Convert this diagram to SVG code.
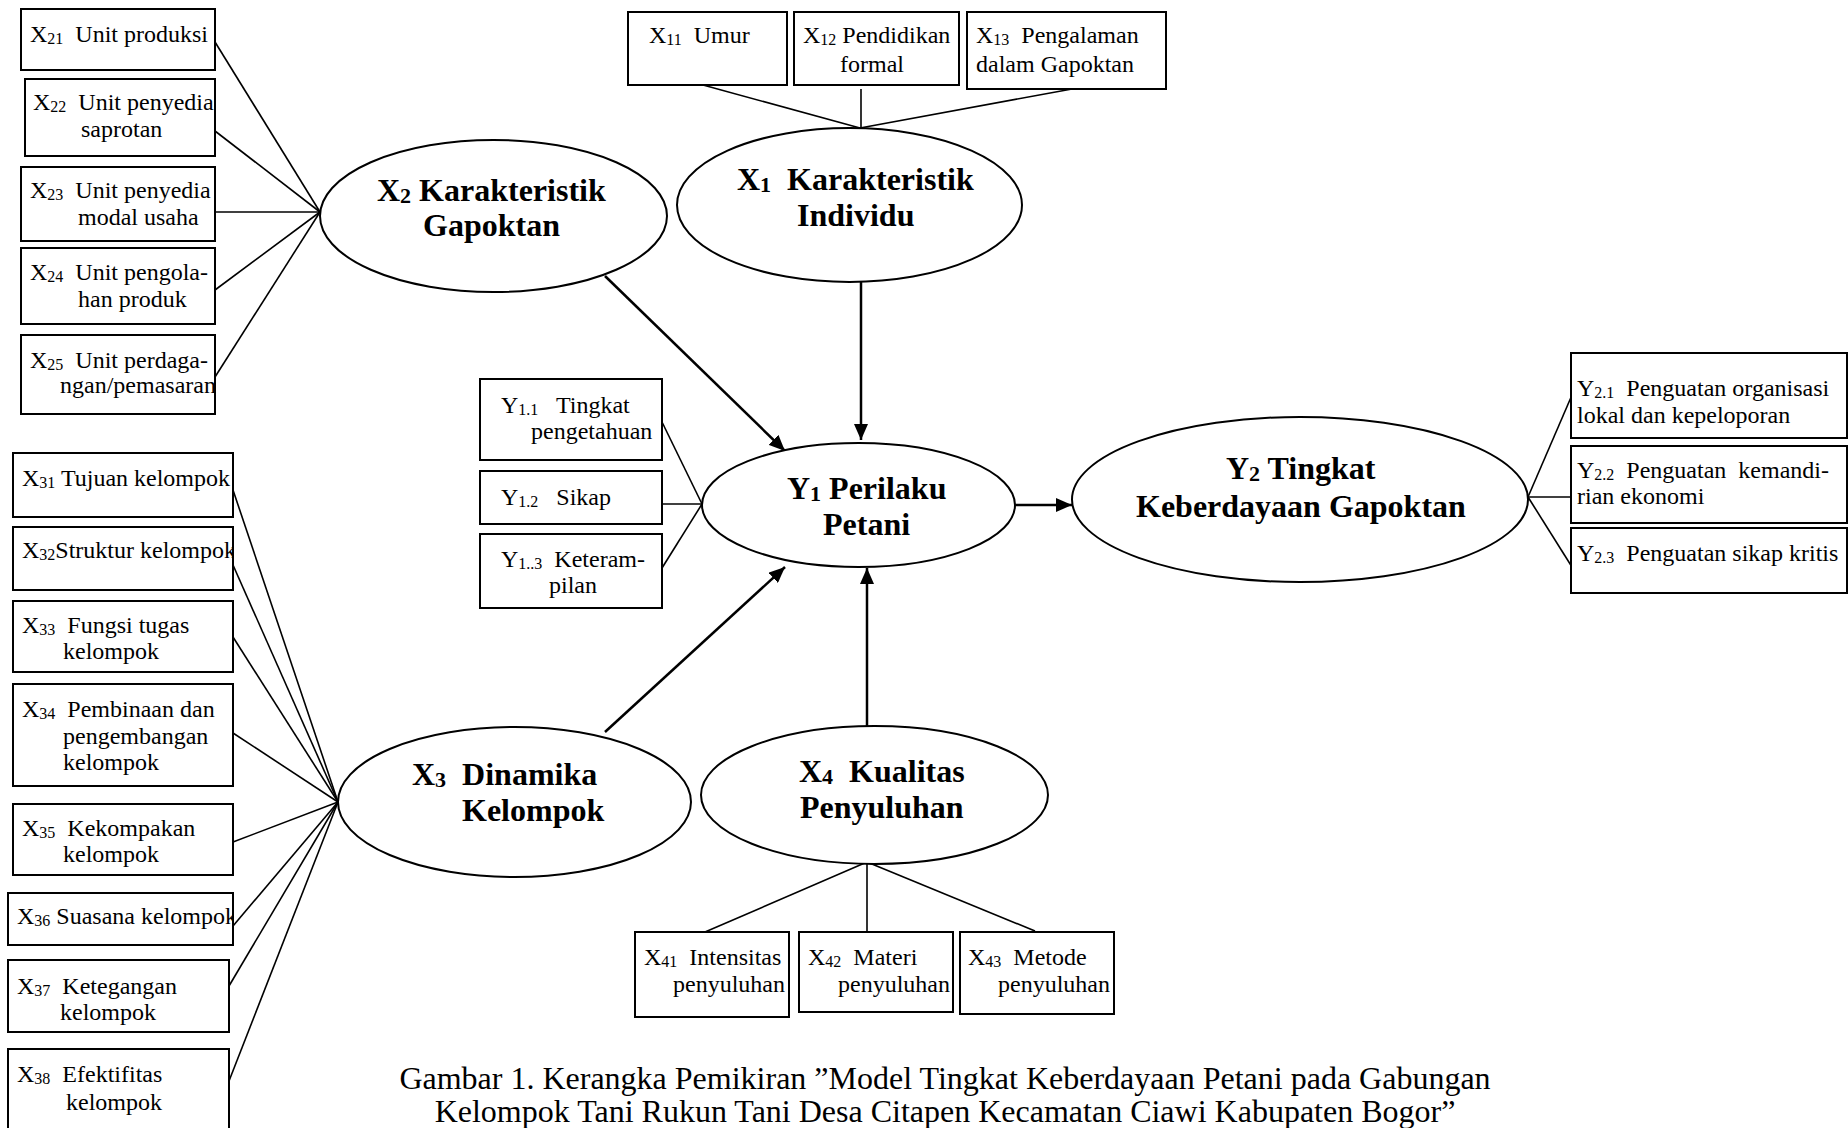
<svg xmlns="http://www.w3.org/2000/svg" width="1848" height="1128" viewBox="0 0 1848 1128" xml:space="preserve">
<defs>
<style>
.bx{fill:#fff;stroke:#000;stroke-width:2}
.el{fill:#fff;stroke:#000;stroke-width:2}
.t{font-family:"Liberation Serif","Times New Roman",serif;font-size:24px;fill:#000;white-space:pre}
.s{font-size:16px}
.b{font-family:"Liberation Serif","Times New Roman",serif;font-size:32px;font-weight:bold;fill:#000;white-space:pre}
.bs{font-size:22px}
.ln{stroke:#000;stroke-width:1.6;fill:none}
.ar{stroke:#000;stroke-width:2.5;fill:none;marker-end:url(#ah)}
.cap{font-family:"Liberation Serif","Times New Roman",serif;font-size:32px;fill:#000;white-space:pre}
</style>
<marker id="ah" markerWidth="16" markerHeight="14" refX="16" refY="7" orient="auto" markerUnits="userSpaceOnUse"><path d="M0,0 L16,7 L0,14 z" fill="#000"/></marker>
<clipPath id="c33"><rect x="13" y="601" width="220" height="71"/></clipPath>
<clipPath id="c35"><rect x="13" y="804" width="220" height="71"/></clipPath>
<clipPath id="c37"><rect x="8" y="960" width="221" height="72"/></clipPath>
<clipPath id="c32"><rect x="13" y="527" width="220" height="63"/></clipPath>
<clipPath id="c36"><rect x="8" y="893" width="225" height="52"/></clipPath>
<clipPath id="cy13"><rect x="480" y="534" width="182" height="74"/></clipPath>
</defs>
<rect width="1848" height="1128" fill="#fff"/>

<g id="connectors">
<line class="ln" x1="215" y1="42" x2="320" y2="212"/>
<line class="ln" x1="215" y1="131" x2="320" y2="212"/>
<line class="ln" x1="215" y1="212" x2="320" y2="212"/>
<line class="ln" x1="215" y1="290" x2="320" y2="212"/>
<line class="ln" x1="215" y1="377" x2="320" y2="212"/>
<line class="ln" x1="233" y1="490" x2="338" y2="802"/>
<line class="ln" x1="233" y1="565" x2="338" y2="802"/>
<line class="ln" x1="233" y1="637" x2="338" y2="802"/>
<line class="ln" x1="233" y1="733" x2="338" y2="802"/>
<line class="ln" x1="233" y1="842" x2="338" y2="802"/>
<line class="ln" x1="233" y1="926" x2="338" y2="802"/>
<line class="ln" x1="229" y1="986" x2="338" y2="802"/>
<line class="ln" x1="229" y1="1081" x2="338" y2="802"/>
<line class="ln" x1="703" y1="85" x2="860" y2="128"/>
<line class="ln" x1="861" y1="89" x2="861" y2="128"/>
<line class="ln" x1="1072" y1="89" x2="860" y2="128"/>
<line class="ln" x1="705" y1="932" x2="867" y2="862"/>
<line class="ln" x1="867" y1="932" x2="867" y2="862"/>
<line class="ln" x1="1035" y1="931" x2="867" y2="862"/>
<line class="ln" x1="662" y1="422" x2="702" y2="504"/>
<line class="ln" x1="662" y1="504" x2="702" y2="504"/>
<line class="ln" x1="662" y1="568" x2="702" y2="504"/>
<line class="ln" x1="1528" y1="497" x2="1572" y2="395"/>
<line class="ln" x1="1528" y1="497" x2="1572" y2="497"/>
<line class="ln" x1="1528" y1="497" x2="1572" y2="567"/>
<line class="ar" x1="605" y1="276" x2="785" y2="451"/>
<line class="ar" x1="861" y1="282" x2="861" y2="440"/>
<line class="ar" x1="605" y1="732" x2="785" y2="567"/>
<line class="ar" x1="867" y1="727" x2="867" y2="568"/>
<line class="ar" x1="1015" y1="505" x2="1072" y2="505"/>
</g>

<g id="X1">
<ellipse class="el" cx="849.5" cy="205" rx="172.5" ry="77"/>
<text class="b" x="737" y="190">X<tspan class="bs" dy="2">1</tspan><tspan dy="-2">  Karakteristik</tspan></text>
<text class="b" x="797" y="226">Individu</text>
</g>
<g id="X2">
<ellipse class="el" cx="493.5" cy="216" rx="173.5" ry="76"/>
<text class="b" x="377" y="201">X<tspan class="bs" dy="2">2</tspan><tspan dy="-2"> Karakteristik</tspan></text>
<text class="b" x="423" y="236">Gapoktan</text>
</g>
<g id="X3">
<ellipse class="el" cx="514.5" cy="802" rx="176.5" ry="75"/>
<text class="b" x="412" y="785">X<tspan class="bs" dy="2">3</tspan><tspan dy="-2">  Dinamika</tspan></text>
<text class="b" x="462" y="821">Kelompok</text>
</g>
<g id="X4">
<ellipse class="el" cx="874.5" cy="795" rx="173.5" ry="69"/>
<text class="b" x="799" y="782">X<tspan class="bs" dy="2">4</tspan><tspan dy="-2">  Kualitas</tspan></text>
<text class="b" x="800" y="818">Penyuluhan</text>
</g>
<g id="Y1">
<ellipse class="el" cx="858.5" cy="505" rx="156.5" ry="62"/>
<text class="b" x="787" y="499">Y<tspan class="bs" dy="2">1</tspan><tspan dy="-2"> Perilaku</tspan></text>
<text class="b" x="823" y="535">Petani</text>
</g>
<g id="Y2">
<ellipse class="el" cx="1300" cy="499.5" rx="228" ry="82.5"/>
<text class="b" x="1226" y="479">Y<tspan class="bs" dy="2">2</tspan><tspan dy="-2"> Tingkat</tspan></text>
<text class="b" x="1136" y="517">Keberdayaan Gapoktan</text>
</g>

<g id="X21"><rect class="bx" x="21" y="9" width="194" height="61"/>
<text class="t" x="30" y="42">X<tspan class="s" dy="2">21</tspan><tspan dy="-2">  Unit produksi</tspan></text></g>
<g id="X22"><rect class="bx" x="25" y="79" width="190" height="77"/>
<text class="t" x="33" y="110">X<tspan class="s" dy="2">22</tspan><tspan dy="-2">  Unit penyedia</tspan></text>
<text class="t" x="81" y="137">saprotan</text></g>
<g id="X23"><rect class="bx" x="21" y="167" width="194" height="74"/>
<text class="t" x="30" y="198">X<tspan class="s" dy="2">23</tspan><tspan dy="-2">  Unit penyedia</tspan></text>
<text class="t" x="78" y="225">modal usaha</text></g>
<g id="X24"><rect class="bx" x="21" y="248" width="194" height="76"/>
<text class="t" x="30" y="280">X<tspan class="s" dy="2">24</tspan><tspan dy="-2">  Unit pengola-</tspan></text>
<text class="t" x="78" y="307">han produk</text></g>
<g id="X25"><rect class="bx" x="21" y="335" width="194" height="79"/>
<text class="t" x="30" y="368">X<tspan class="s" dy="2">25</tspan><tspan dy="-2">  Unit perdaga-</tspan></text>
<text class="t" x="60" y="393">ngan/pemasaran</text></g>

<g id="X31"><rect class="bx" x="13" y="453" width="220" height="64"/>
<text class="t" x="22" y="486">X<tspan class="s" dy="2">31</tspan><tspan dy="-2"> Tujuan kelompok</tspan></text></g>
<g id="X32"><rect class="bx" x="13" y="527" width="220" height="63"/>
<g clip-path="url(#c32)"><text class="t" x="22" y="558">X<tspan class="s" dy="2">32</tspan><tspan dy="-2">Struktur kelompok</tspan></text></g></g>
<g id="X33"><rect class="bx" x="13" y="601" width="220" height="71"/>
<g clip-path="url(#c33)"><text class="t" x="22" y="633">X<tspan class="s" dy="2">33</tspan><tspan dy="-2">  Fungsi tugas</tspan></text>
<text class="t" x="63" y="659">kelompok</text></g></g>
<g id="X34"><rect class="bx" x="13" y="684" width="220" height="102"/>
<text class="t" x="22" y="717">X<tspan class="s" dy="2">34</tspan><tspan dy="-2">  Pembinaan dan</tspan></text>
<text class="t" x="63" y="744">pengembangan</text>
<text class="t" x="63" y="770">kelompok</text></g>
<g id="X35"><rect class="bx" x="13" y="804" width="220" height="71"/>
<g clip-path="url(#c35)"><text class="t" x="22" y="836">X<tspan class="s" dy="2">35</tspan><tspan dy="-2">  Kekompakan</tspan></text>
<text class="t" x="63" y="862">kelompok</text></g></g>
<g id="X36"><rect class="bx" x="8" y="893" width="225" height="52"/>
<g clip-path="url(#c36)"><text class="t" x="17" y="924">X<tspan class="s" dy="2">36</tspan><tspan dy="-2"> Suasana kelompok</tspan></text></g></g>
<g id="X37"><rect class="bx" x="8" y="960" width="221" height="72"/>
<g clip-path="url(#c37)"><text class="t" x="17" y="994">X<tspan class="s" dy="2">37</tspan><tspan dy="-2">  Ketegangan</tspan></text>
<text class="t" x="60" y="1020">kelompok</text></g></g>
<g id="X38"><rect class="bx" x="8" y="1049" width="221" height="100"/>
<text class="t" x="17" y="1082">X<tspan class="s" dy="2">38</tspan><tspan dy="-2">  Efektifitas</tspan></text>
<text class="t" x="66" y="1110">kelompok</text></g>

<g id="X11"><rect class="bx" x="628" y="12" width="159" height="73"/>
<text class="t" x="649" y="43">X<tspan class="s" dy="2">11</tspan><tspan dy="-2">  Umur</tspan></text></g>
<g id="X12"><rect class="bx" x="794" y="12" width="165" height="73"/>
<text class="t" x="803" y="43">X<tspan class="s" dy="2">12</tspan><tspan dy="-2"> Pendidikan</tspan></text>
<text class="t" x="840" y="72">formal</text></g>
<g id="X13"><rect class="bx" x="967" y="12" width="199" height="77"/>
<text class="t" x="976" y="43">X<tspan class="s" dy="2">13</tspan><tspan dy="-2">  Pengalaman</tspan></text>
<text class="t" x="976" y="72">dalam Gapoktan</text></g>

<g id="Y11"><rect class="bx" x="480" y="379" width="182" height="81"/>
<text class="t" x="501" y="413">Y<tspan class="s" dy="2">1.1</tspan><tspan dy="-2">   Tingkat</tspan></text>
<text class="t" x="531" y="439">pengetahuan</text></g>
<g id="Y12"><rect class="bx" x="480" y="471" width="182" height="53"/>
<text class="t" x="501" y="505">Y<tspan class="s" dy="2">1.2</tspan><tspan dy="-2">   Sikap</tspan></text></g>
<g id="Y13"><rect class="bx" x="480" y="534" width="182" height="74"/>
<g clip-path="url(#cy13)"><text class="t" x="501" y="567">Y<tspan class="s" dy="2">1..3</tspan><tspan dy="-2">  Keteram-</tspan></text>
<text class="t" x="549" y="593">pilan</text></g></g>

<g id="Y21"><rect class="bx" x="1571" y="353" width="276" height="85"/>
<text class="t" x="1577" y="396">Y<tspan class="s" dy="2">2.1</tspan><tspan dy="-2">  Penguatan organisasi</tspan></text>
<text class="t" x="1577" y="423">lokal dan kepeloporan</text></g>
<g id="Y22"><rect class="bx" x="1571" y="446" width="276" height="77"/>
<text class="t" x="1577" y="478">Y<tspan class="s" dy="2">2.2</tspan><tspan dy="-2">  Penguatan  kemandi-</tspan></text>
<text class="t" x="1577" y="504">rian ekonomi</text></g>
<g id="Y23"><rect class="bx" x="1571" y="528" width="276" height="65"/>
<text class="t" x="1577" y="561">Y<tspan class="s" dy="2">2.3</tspan><tspan dy="-2">  Penguatan sikap kritis</tspan></text></g>

<g id="X41"><rect class="bx" x="635" y="932" width="154" height="85"/>
<text class="t" x="644" y="965">X<tspan class="s" dy="2">41</tspan><tspan dy="-2">  Intensitas</tspan></text>
<text class="t" x="673" y="992">penyuluhan</text></g>
<g id="X42"><rect class="bx" x="799" y="932" width="154" height="80"/>
<text class="t" x="808" y="965">X<tspan class="s" dy="2">42</tspan><tspan dy="-2">  Materi</tspan></text>
<text class="t" x="838" y="992">penyuluhan</text></g>
<g id="X43"><rect class="bx" x="960" y="932" width="154" height="82"/>
<text class="t" x="968" y="965">X<tspan class="s" dy="2">43</tspan><tspan dy="-2">  Metode</tspan></text>
<text class="t" x="998" y="992">penyuluhan</text></g>

<g id="caption">
<text class="cap" x="945" y="1089" text-anchor="middle">Gambar 1. Kerangka Pemikiran ”Model Tingkat Keberdayaan Petani pada Gabungan</text>
<text class="cap" x="945" y="1122" text-anchor="middle">Kelompok Tani Rukun Tani Desa Citapen Kecamatan Ciawi Kabupaten Bogor”</text>
</g>
</svg>
